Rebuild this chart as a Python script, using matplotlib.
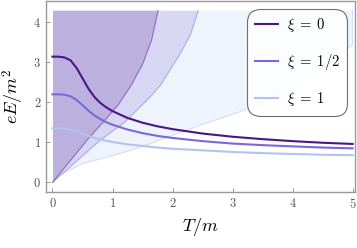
import matplotlib
matplotlib.use("Agg")
import matplotlib.pyplot as plt

plt.rcParams['mathtext.fontset'] = 'cm'
plt.rcParams['font.family'] = ['DejaVu Serif']

# ---- data ----
T = [0, 0.1, 0.2, 0.3, 0.4, 0.5, 0.6, 0.7, 0.8, 0.9, 1.0, 1.25, 1.5, 1.75,
     2.0, 2.5, 3.0, 3.5, 4.0, 4.5, 5.0]
E_xi0 = [3.14, 3.14, 3.12, 3.05, 2.86, 2.60, 2.34, 2.13, 1.98, 1.87, 1.78,
         1.61, 1.49, 1.40, 1.33, 1.22, 1.14, 1.08, 1.03, 0.99, 0.96]
E_xi12 = [2.20, 2.20, 2.19, 2.15, 2.06, 1.93, 1.79, 1.67, 1.58, 1.50, 1.44,
          1.32, 1.23, 1.16, 1.11, 1.03, 0.97, 0.93, 0.90, 0.87, 0.85]
E_xi1 = [1.35, 1.35, 1.34, 1.32, 1.28, 1.22, 1.16, 1.11, 1.07, 1.04, 1.01,
         0.95, 0.91, 0.87, 0.84, 0.80, 0.76, 0.73, 0.71, 0.69, 0.68]

# region boundaries (T as function of E)
b1_T = [0, 0.3, 0.6, 0.9, 1.1, 1.3, 1.5, 1.65, 1.76]
b1_E = [0, 0.55, 1.1, 1.6, 1.95, 2.4, 2.95, 3.55, 4.3]
b2_T = [0, 0.3, 0.8, 1.2, 1.63, 1.8, 2.13, 2.3, 2.43]
b2_E = [0, 0.4, 1.06, 1.5, 2.14, 2.43, 3.22, 3.7, 4.3]
b3_T = [0, 0.12, 0.5, 1.0, 1.3, 1.63, 2.13, 2.5, 3.0, 3.5, 4.0, 4.5, 5.0, 5.0]
b3_E = [0, 0.18, 0.47, 0.67, 0.8, 0.97, 1.25, 1.45, 1.7, 1.98, 2.35, 2.85, 3.45, 4.3]

labels = [r'$\xi\;=\;0$', r'$\xi\;=\;1/2$', r'$\xi\;=\;1$']
colors = ['#4b1587', '#7b68d8', '#b0c4ee']
xticks = [0, 1, 2, 3, 4, 5]
yticks = [0, 1, 2, 3, 4]

fig = plt.figure(figsize=(3.57, 2.48), dpi=100)
ax = fig.add_axes([46/357, 56/248, 309/357, 191/248])

# shaded regions
for bT, bE, c in [(b3_T, b3_E, colors[2]), (b2_T, b2_E, colors[1]), (b1_T, b1_E, colors[0])]:
    ax.fill_betweenx(bE, 0, bT, color=c, alpha=0.2, lw=0)
    ax.plot(bT, bE, color=c, alpha=0.45, lw=0.7)

for E, c, lab in zip([E_xi0, E_xi12, E_xi1], colors, labels):
    ax.plot(T, E, color=c, lw=1.5, label=lab)

ax.set_xlim(-0.108, 5.04)
ax.set_ylim(-0.24, 4.53)
ax.set_xticks(xticks)
ax.set_yticks(yticks)
ax.set_xticklabels([f'${v}$' for v in xticks])
ax.set_yticklabels([f'${v}$' for v in yticks])
ax.tick_params(direction='in', length=3, width=0.6, color='#888888',
               labelcolor='#555555', labelsize=9, top=False, right=False)
for s in ax.spines.values():
    s.set_color('#999999')
    s.set_linewidth(1.0)

ax.set_xlabel(r'$T/m$', fontsize=13, labelpad=4)
ax.set_ylabel(r'$eE/m^2$', fontsize=13, labelpad=5)

leg = ax.legend(loc='upper right', bbox_to_anchor=(0.975, 0.96), fontsize=10.5,
                handlelength=1.6, handletextpad=0.6, labelspacing=1.25,
                borderpad=0.5, borderaxespad=0.0, fancybox=True, framealpha=0.85,
                edgecolor='#555555')
leg.get_frame().set_linewidth(0.8)
leg.get_frame().set_boxstyle('round,pad=0,rounding_size=0.9')

fig.savefig('out.png', dpi=100)
